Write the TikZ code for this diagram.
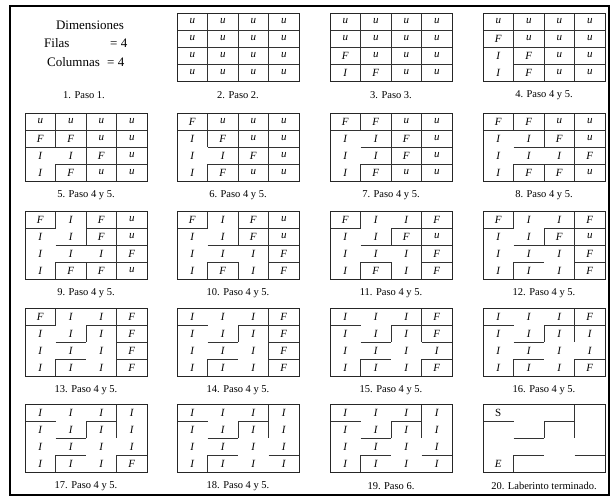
\documentclass[tikz,border=0pt]{standalone}
\usepackage{fontspec}
\setmainfont{Liberation Serif}
\begin{document}
\begin{tikzpicture}[x=1pt,y=-1pt,
  wall/.style={draw=black!80,line width=0.8pt},
  gridframe/.style={draw=black!85,line width=1pt},
  cell/.style={inner sep=0pt,font=\fontsize{11}{12}\selectfont\itshape},
  caption/.style={inner sep=0pt,font=\fontsize{10.5}{12}\selectfont},
  header/.style={inner sep=0pt,font=\fontsize{13}{14}\selectfont}]
\useasboundingbox (0,0) rectangle (613,499);
\draw[line width=1.6pt] (10,6) rectangle (609,495);
\def\cw{30.5}
\def\ch{17}
\def\hedges{0/0/99,0/1/6,0/2/99,0/3/14,1/0/3,1/1/99,1/2/10,1/3/13,2/0/1,2/1/99,2/2/7,2/3/99}
\def\vedges{0/0/11,0/1/8,0/2/99,1/0/4,1/1/99,1/2/99,2/0/2,2/1/5,2/2/12,3/0/99,3/1/9,3/2/15}
\newcommand\mazepanel[6]{%
\begin{scope}[shift={(#2,#3)}]
 \foreach \ra/\ca/\ka in \hedges {\ifnum\ka>#4\relax \draw[wall] ({\ca*\cw},{(\ra+1)*\ch}) -- ++(\cw,0);\fi}
 \foreach \ra/\ca/\ka in \vedges {\ifnum\ka>#4\relax \draw[wall] ({(\ca+1)*\cw},{\ra*\ch}) -- ++(0,\ch);\fi}
 \draw[gridframe] (0,0) rectangle ({4*\cw},{4*\ch});
 \foreach \t [count=\i from 0] in {#5} {
   \pgfmathtruncatemacro\rr{int(\i/4)}
   \pgfmathtruncatemacro\cc{mod(\i,4)}
   \node[cell] (p#1c\i) at ({(\cc+0.5)*\cw},{(\rr+0.5)*\ch}) {\t};}
 \node[caption] (p#1cap) at ({2*\cw},82) {#6};
\end{scope}}
% panel 1
\node[header] (dim) at (90,25) {Dimensiones};
\node[header,anchor=west] (fil) at (44,43) {Filas};
\node[header,anchor=west] (fil4) at (110,43) {= 4};
\node[header,anchor=west] (col) at (47,62) {Columnas};
\node[header,anchor=west] (col4) at (107,62) {= 4};
\node[caption] (p1cap) at (84,95) {1. Paso 1.};
% row 1
\mazepanel{2}{177}{13}{0}{u,u,u,u,u,u,u,u,u,u,u,u,u,u,u,u}{2. Paso 2.}
\mazepanel{3}{330}{13}{0}{u,u,u,u,u,u,u,u,F,u,u,u,I,F,u,u}{3. Paso 3.}
\mazepanel{4}{483}{13}{1}{u,u,u,u,F,u,u,u,I,F,u,u,I,F,u,u}{4. Paso 4 y 5.}
% row 2
\mazepanel{5}{25}{113}{2}{u,u,u,u,F,F,u,u,I,I,F,u,I,F,u,u}{5. Paso 4 y 5.}
\mazepanel{6}{177}{113}{3}{F,u,u,u,I,F,u,u,I,I,F,u,I,F,u,u}{6. Paso 4 y 5.}
\mazepanel{7}{330}{113}{4}{F,F,u,u,I,I,F,u,I,I,F,u,I,F,u,u}{7. Paso 4 y 5.}
\mazepanel{8}{483}{113}{5}{F,F,u,u,I,I,F,u,I,I,I,F,I,F,F,u}{8. Paso 4 y 5.}
% row 3
\mazepanel{9}{25}{211}{6}{F,I,F,u,I,I,F,u,I,I,I,F,I,F,F,u}{9. Paso 4 y 5.}
\mazepanel{10}{177}{211}{7}{F,I,F,u,I,I,F,u,I,I,I,F,I,F,I,F}{10. Paso 4 y 5.}
\mazepanel{11}{330}{211}{8}{F,I,I,F,I,I,F,u,I,I,I,F,I,F,I,F}{11. Paso 4 y 5.}
\mazepanel{12}{483}{211}{9}{F,I,I,F,I,I,F,u,I,I,I,F,I,I,I,F}{12. Paso 4 y 5.}
% row 4
\mazepanel{13}{25}{308}{10}{F,I,I,F,I,I,I,F,I,I,I,F,I,I,I,F}{13. Paso 4 y 5.}
\mazepanel{14}{177}{308}{11}{I,I,I,F,I,I,I,F,I,I,I,F,I,I,I,F}{14. Paso 4 y 5.}
\mazepanel{15}{330}{308}{12}{I,I,I,F,I,I,I,F,I,I,I,I,I,I,I,F}{15. Paso 4 y 5.}
\mazepanel{16}{483}{308}{13}{I,I,I,F,I,I,I,I,I,I,I,I,I,I,I,F}{16. Paso 4 y 5.}
% row 5
\mazepanel{17}{25}{404}{14}{I,I,I,I,I,I,I,I,I,I,I,I,I,I,I,F}{17. Paso 4 y 5.}
\mazepanel{18}{177}{404}{15}{I,I,I,I,I,I,I,I,I,I,I,I,I,I,I,I}{18. Paso 4 y 5.}
\mazepanel{19}{330}{404}{15}{I,I,I,I,I,I,I,I,I,I,I,I,I,I,I,I}{19. Paso 6.}
\mazepanel{20}{483}{404}{15}{{\upshape S},,,,,,,,,,,,E,,,}{20. Laberinto terminado.}
\end{tikzpicture}
\end{document}
